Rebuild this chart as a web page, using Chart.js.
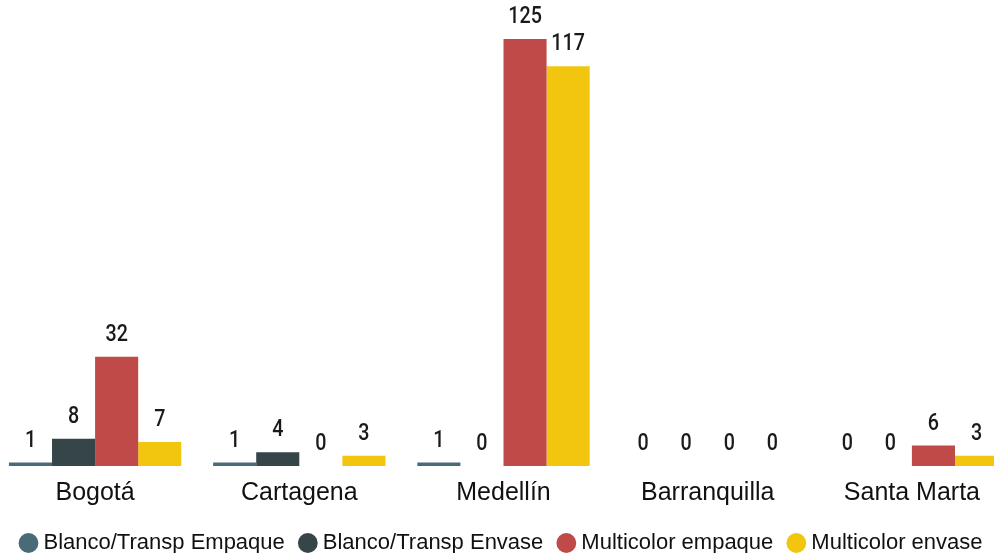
<!DOCTYPE html>
<html>
<head>
<meta charset="utf-8">
<script src="https://cdn.jsdelivr.net/npm/chart.js@4"></script>
<style>
html,body{margin:0;padding:0;background:#fff;overflow:hidden;}
#wrap{position:absolute;left:-7px;top:0;width:1021px;height:564px;}
</style>
</head>
<body>
<div id="wrap"><canvas id="c"></canvas></div>
<script>
const categories = ["Bogotá", "Cartagena", "Medellín", "Barranquilla", "Santa Marta"];
const seriesNames = ["Blanco/Transp Empaque", "Blanco/Transp Envase", "Multicolor empaque", "Multicolor envase"];
const blancoEmpaque = [1, 1, 1, 0, 0];
const blancoEnvase = [8, 4, 0, 0, 0];
const multicolorEmpaque = [32, 0, 125, 0, 6];
const multicolorEnvase = [7, 3, 117, 0, 3];
const colors = ["#496b77", "#364548", "#bf4a48", "#f2c60f"];

const valueLabels = {
  id: 'valueLabels',
  afterDatasetsDraw(chart) {
    const ctx = chart.ctx;
    const sx = 0.82;
    ctx.save();
    ctx.font = '500 24px Roboto, "Liberation Sans", sans-serif';
    ctx.fillStyle = '#1a1a1a';
    ctx.textAlign = 'center';
    ctx.textBaseline = 'alphabetic';
    chart.data.datasets.forEach((ds, i) => {
      const meta = chart.getDatasetMeta(i);
      meta.data.forEach((el, j) => {
        ctx.save();
        ctx.translate(el.x, el.y - 16);
        ctx.scale(sx, 1);
        ctx.fillText(String(ds.data[j]), 0, 0);
        ctx.restore();
      });
    });
    ctx.restore();
  }
};

const allSeries = [blancoEmpaque, blancoEnvase, multicolorEmpaque, multicolorEnvase];
new Chart(document.getElementById('c'), {
  type: 'bar',
  data: {
    labels: categories,
    datasets: allSeries.map((d, i) => ({
      label: seriesNames[i],
      data: d,
      backgroundColor: colors[i],
      borderWidth: 0,
      categoryPercentage: 0.844,
      barPercentage: 1.0
    }))
  },
  options: {
    responsive: true,
    maintainAspectRatio: false,
    animation: false,
    layout: { padding: { top: 0, bottom: 0, left: 0, right: 0 } },
    scales: {
      x: {
        grid: { display: false },
        border: { display: false },
        ticks: {
          color: '#111',
          font: { family: '"Liberation Sans", Arial, sans-serif', size: 25, lineHeight: 1.44 },
          padding: 1.5
        }
      },
      y: {
        display: false,
        min: 0,
        max: 136.4
      }
    },
    plugins: {
      legend: {
        position: 'bottom',
        labels: {
          usePointStyle: true,
          pointStyle: 'circle',
          boxWidth: 8,
          boxHeight: 14,
          padding: 19,
          color: '#111',
          font: { family: '"Liberation Sans", Arial, sans-serif', size: 22 }
        }
      },
      tooltip: { enabled: false }
    }
  },
  plugins: [valueLabels]
});
</script>
</body>
</html>
